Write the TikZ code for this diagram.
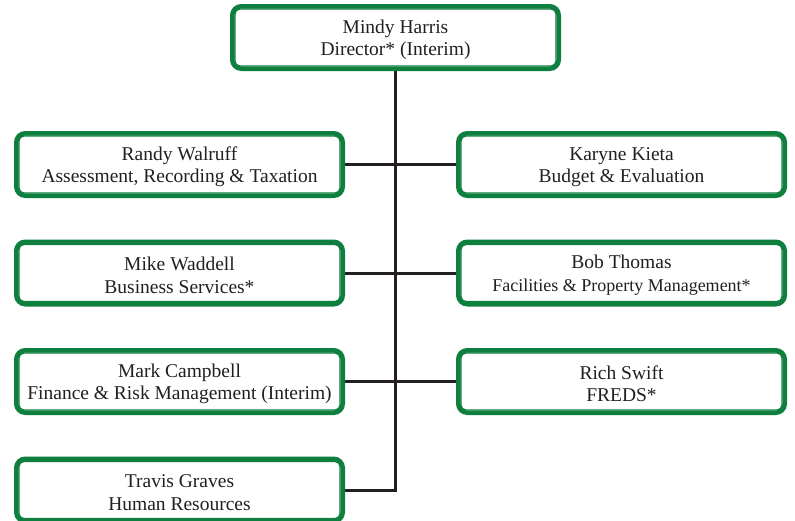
\documentclass[tikz,border=0pt]{standalone}
\usepackage{fontspec}
\setmainfont{Liberation Serif}
\usetikzlibrary{calc,backgrounds}
\definecolor{dgreen}{RGB}{14,127,62}
\definecolor{ink}{RGB}{35,31,32}
\begin{document}
\begin{tikzpicture}[x=1pt,y=-1pt,
  box/.style={draw=dgreen, line width=4.5pt, rounded corners=9pt, fill=white,
    minimum width=326.5pt, minimum height=62.5pt, inner sep=0pt,
    align=center, text=ink, font=\fontsize{19.5}{22.3}\selectfont},
  innerline/.style={draw=dgreen, line width=1.2pt, rounded corners=5pt},
  link/.style={draw=ink, line width=3pt}]
\useasboundingbox (0,0) rectangle (795,520);
\node[box] (top) at (395.5,37.5) {\rule{0pt}{18pt}Mindy Harris\\Director* (Interim)};
\node[box] (l1) at (179.5,164.5) {\rule{0pt}{18pt}Randy Walruff\\Assessment, Recording \& Taxation};
\node[box] (r1) at (621.5,164.5) {\rule{0pt}{18pt}Karyne Kieta\\Budget \& Evaluation};
\node[box] (l2) at (179.5,273) {\rule{0pt}{18pt}Mike Waddell\\Business Services*};
\node[box] (r2) at (621.5,273) {\rule{0pt}{18pt}Bob Thomas\\{\fontsize{18}{22.3}\selectfont Facilities \& Property Management*}};
\node[box] (l3) at (179.5,381.5) {\rule{0pt}{18pt}Mark Campbell\\Finance \& Risk Management (Interim)};
\node[box] (r3) at (621.5,381.5) {\rule{0pt}{18pt}Rich Swift\\FREDS*};
\node[box] (l4) at (179.5,490) {\rule{0pt}{18pt}Travis Graves\\Human Resources};
\foreach \n in {top,l1,r1,l2,r2,l3,r3,l4}{
  \path[innerline] ($(\n.north west)+(5pt,-5pt)$) rectangle ($(\n.south east)+(-5pt,5pt)$);
}
\begin{scope}[on background layer]
  \draw[link] (top.south) -- (top.south |- l4.east) -- (l4.east);
  \draw[link] (l1.east) -- (r1.west);
  \draw[link] (l2.east) -- (r2.west);
  \draw[link] (l3.east) -- (r3.west);
\end{scope}
\end{tikzpicture}
\end{document}
